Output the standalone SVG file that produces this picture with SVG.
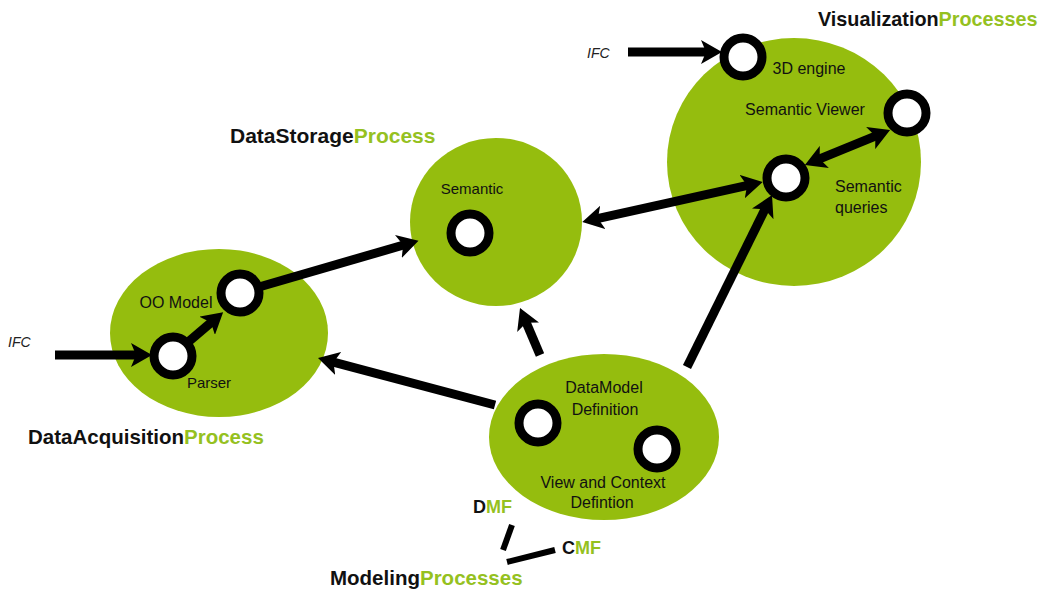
<svg xmlns="http://www.w3.org/2000/svg" width="1054" height="590" viewBox="0 0 1054 590">
<style>
.proc{fill:#95bd0e}
.ring{fill:#fff;stroke:#000;stroke-width:9}
.lbl{font-family:"Liberation Sans",Arial,sans-serif;font-size:16px;fill:#111}
.ifc{font-family:"Liberation Sans",Arial,sans-serif;font-size:14px;font-style:italic;fill:#222}
.ttl{font-family:"Liberation Sans",Arial,sans-serif;font-size:20.5px;font-weight:bold;fill:#111}
.g{fill:#95c11f}
.arr{stroke:#000;stroke-width:9;fill:none}
.seg{stroke:#000;stroke-width:6;fill:none}
</style>
<defs>
<marker id="ah" markerUnits="userSpaceOnUse" markerWidth="22" markerHeight="24" viewBox="0 0 22 24" refX="9" refY="12" orient="auto-start-reverse">
<path d="M0,0 L21,12 L0,24 L5,12 z" fill="#000"/>
</marker>
</defs>
<rect width="1054" height="590" fill="#fff"/>

<g id="acquisition">
<ellipse class="proc" cx="219" cy="333" rx="109" ry="84"/>
<circle class="ring" cx="173" cy="356" r="19"/>
<circle class="ring" cx="240" cy="293" r="19"/>
<text class="lbl" x="176" y="308" text-anchor="middle">OO Model</text>
<text class="lbl" x="209" y="388" text-anchor="middle" style="font-size:15px">Parser</text>
<text class="ifc" x="8" y="347">IFC</text>
<text class="ttl" x="28" y="444">DataAcquisition<tspan class="g">Process</tspan></text>
</g>

<g id="storage">
<ellipse class="proc" cx="496" cy="222" rx="86" ry="84"/>
<circle class="ring" cx="470" cy="233" r="19"/>
<text class="lbl" x="472" y="194" text-anchor="middle" style="font-size:15px">Semantic</text>
<text class="ttl" x="230" y="143" style="font-size:21px">DataStorage<tspan class="g">Process</tspan></text>
</g>

<g id="visualization">
<ellipse class="proc" cx="794" cy="162" rx="127" ry="124"/>
<circle class="ring" cx="743" cy="57" r="19"/>
<circle class="ring" cx="907" cy="113" r="19"/>
<circle class="ring" cx="786" cy="178" r="19"/>
<text class="lbl" x="809" y="74" text-anchor="middle">3D engine</text>
<text class="lbl" x="805" y="115" text-anchor="middle">Semantic Viewer</text>
<text class="lbl" x="835" y="192">Semantic</text>
<text class="lbl" x="835" y="213">queries</text>
<text class="ifc" x="587" y="58">IFC</text>
<text class="ttl" x="818" y="26" style="font-size:19.8px">Visualization<tspan class="g">Processes</tspan></text>
</g>

<g id="modeling">
<ellipse class="proc" cx="604" cy="437" rx="115" ry="83"/>
<circle class="ring" cx="538" cy="423" r="19"/>
<circle class="ring" cx="657" cy="449" r="19"/>
<text class="lbl" x="604" y="393" text-anchor="middle">DataModel</text>
<text class="lbl" x="605" y="415" text-anchor="middle">Definition</text>
<text class="lbl" x="603" y="488" text-anchor="middle">View and Context</text>
<text class="lbl" x="602" y="508" text-anchor="middle">Defintion</text>
<text class="ttl" x="473" y="513" style="font-size:18px">D<tspan class="g">MF</tspan></text>
<text class="ttl" x="562" y="554" style="font-size:18px">C<tspan class="g">MF</tspan></text>
<text class="ttl" x="330" y="585">Modeling<tspan class="g">Processes</tspan></text>
</g>

<g id="connectors">
<line class="arr" x1="55" y1="355" x2="140" y2="355" marker-end="url(#ah)"/>
<line class="arr" x1="187" y1="343" x2="214" y2="320" marker-end="url(#ah)"/>
<line class="arr" x1="259" y1="287" x2="407" y2="244" marker-end="url(#ah)"/>
<line class="arr" x1="628" y1="52" x2="710" y2="52" marker-end="url(#ah)"/>
<line class="arr" x1="594" y1="219.4" x2="751" y2="184.6" marker-start="url(#ah)" marker-end="url(#ah)"/>
<line class="arr" x1="816" y1="160.4" x2="879" y2="134.6" marker-start="url(#ah)" marker-end="url(#ah)"/>
<line class="arr" x1="687" y1="367" x2="766.7" y2="205.8" marker-end="url(#ah)"/>
<line class="arr" x1="495" y1="405" x2="329.6" y2="361.1" marker-end="url(#ah)"/>
<line class="arr" x1="540" y1="355" x2="524.7" y2="319" marker-end="url(#ah)"/>
<line class="seg" x1="512" y1="525" x2="503" y2="550"/>
<line class="seg" x1="507" y1="562" x2="555" y2="550"/>
</g>
</svg>
